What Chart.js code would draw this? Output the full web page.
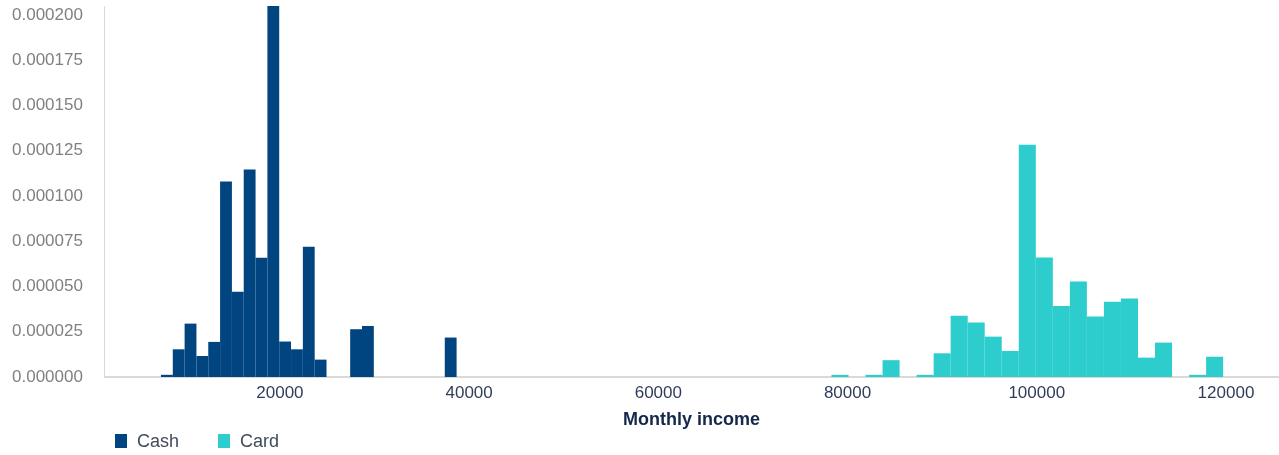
<!DOCTYPE html>
<html>
<head>
<meta charset="utf-8">
<script src="https://cdn.jsdelivr.net/npm/chart.js@4.4.1/dist/chart.umd.min.js"></script>
<style>
    html, body { margin: 0; padding: 0; background: #fff; }
    #wrap { position: relative; width: 1279px; height: 455px; }
    #legend { position: absolute; left: 115px; top: 432px; display: flex; font: 18px "Liberation Sans", Arial, sans-serif; color: #404b5c; }
    .item { display: flex; align-items: center; margin-right: 39px; line-height: 18px; }
    .box { display: inline-block; width: 12px; height: 14px; margin-right: 10px; }
</style>
</head>
<body>
<div id="wrap">
    <canvas id="chartIngresos" width="1279" height="455"></canvas>
    <div id="legend"></div>
</div>
<script>
const cashBins = [8050, 9300, 10550, 11800, 13050, 14300, 15550, 16800, 18050, 19300, 20550, 21800, 23050, 24300, 25550, 26800, 28050, 29300, 30550, 31800, 33050, 34300, 35550, 36800, 38050]
const cashValues = [0.0000012, 0.0000153, 0.0000295, 0.0000116, 0.0000194, 0.000108, 0.0000471, 0.0001147, 0.0000659, 0.000205, 0.0000196, 0.0000153, 0.000072, 0.0000096, 0, 0, 0.0000264, 0.0000282, 0, 0, 0, 0, 0, 0, 0.0000218]

const cardBins = [79200, 81000, 82800, 84600, 86400, 88200, 90000, 91800, 93600, 95400, 97200, 99000, 100800, 102600, 104400, 106200, 108000, 109800, 111600, 113400, 115200, 117000, 118800]
const cardValues = [0.0000012, 0, 0.0000012, 0.0000093, 0, 0.0000012, 0.0000131, 0.0000338, 0.0000301, 0.0000223, 0.0000144, 0.0001284, 0.000066, 0.0000393, 0.0000528, 0.0000334, 0.0000416, 0.0000434, 0.0000107, 0.000019, 0, 0.0000012, 0.0000112]

const xTicks = [20000, 40000, 60000, 80000, 100000, 120000]
const yTicks = [0, 0.000025, 0.00005, 0.000075, 0.0001, 0.000125, 0.00015, 0.000175, 0.0002]

const X_MIN = 1500
const X_MAX = 125500

Chart.defaults.font.family = '"Liberation Sans", Arial, sans-serif'

const canvas = document.getElementById('chartIngresos')
const context = canvas.getContext('2d')

const toPoints = (bins, values) => bins.map((x, i) => ({ x, y: values[i] }))

const chartIngresos = new Chart(context, {
    type : 'bar',
    data : {
        datasets : [
            {
                label : 'Cash',
                data : toPoints(cashBins, cashValues),
                backgroundColor : '#004480',
                xAxisID : 'x',
                grouped : false,
                barPercentage : 1,
                categoryPercentage : 1,
                borderWidth : 0,
                inflateAmount : 0
            },
            {
                label : 'Card',
                data : toPoints(cardBins, cardValues),
                backgroundColor : '#2ECDCD',
                xAxisID : 'x2',
                grouped : false,
                barPercentage : 1,
                categoryPercentage : 1,
                borderWidth : 0,
                inflateAmount : 0
            }
        ]
    },
    options : {
        responsive : false,
        animation : false,
        devicePixelRatio : 1,
        layout : { padding : { left : -10, right : 1, top : 6, bottom : 22 } },
        plugins : {
            legend : { display : false },
            tooltip : { enabled : false }
        },
        scales : {
            x : {
                type : 'linear',
                min : X_MIN,
                max : X_MAX,
                offset : false,
                afterBuildTicks : scale => { scale.ticks = xTicks.map(value => ({ value })) },
                ticks : {
                    color : '#2e3d5c',
                    font : { size : 17 },
                    padding : 6,
                    maxRotation : 0,
                    autoSkip : false,
                    callback : value => String(value)
                },
                grid : { display : false, drawTicks : false, offset : false },
                border : { color : '#d9d9d9', width : 2 },
                title : {
                    display : true,
                    text : 'Monthly income',
                    color : '#14284b',
                    font : { size : 18, weight : 'bold' },
                    padding : { top : 0, bottom : 2 }
                }
            },
            x2 : {
                type : 'linear',
                min : X_MIN,
                max : X_MAX,
                offset : false,
                display : false
            },
            y : {
                min : 0,
                max : 0.000205,
                afterBuildTicks : scale => { scale.ticks = yTicks.map(value => ({ value })) },
                afterFit : scale => { scale.paddingTop = 0 },
                ticks : {
                    color : '#808080',
                    font : { size : 17 },
                    padding : 22,
                    callback : value => value.toFixed(6)
                },
                grid : { display : false, drawTicks : false },
                border : { color : '#d9d9d9', width : 1 }
            }
        }
    }
})

const legend = document.getElementById('legend')
chartIngresos.data.datasets.forEach(ds => {
    const item = document.createElement('span')
    item.className = 'item'
    item.innerHTML = `<span class="box" style="background:${ds.backgroundColor}"></span>${ds.label}`
    legend.appendChild(item)
})
</script>
</body>
</html>
